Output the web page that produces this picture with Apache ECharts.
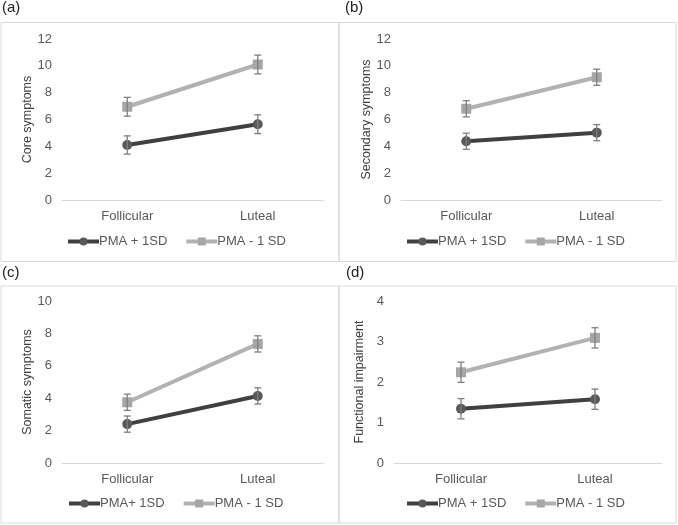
<!DOCTYPE html>
<html><head><meta charset="utf-8">
<script src="https://cdn.jsdelivr.net/npm/echarts@6/dist/echarts.min.js"></script>
<style>html,body{margin:0;padding:0;background:#fff}#c{width:678px;height:525px}</style>
</head><body><div id="c"></div>
<script>
const categories = ['Follicular', 'Luteal'];
const panelLabels = ['(a)', '(b)', '(c)', '(d)'];
const yNames = ['Core symptoms', 'Secondary symptoms', 'Somatic symptoms', 'Functional impairment'];
const yMax = [12, 12, 10, 4];
const yStep = [2, 2, 2, 1];
const highNames = ['PMA + 1SD', 'PMA + 1SD', 'PMA+ 1SD', 'PMA + 1SD'];
const lowNames = ['PMA - 1 SD', 'PMA - 1 SD', 'PMA - 1 SD', 'PMA - 1 SD'];

const coreHigh = [4.1, 5.65];      const coreHighErr = [0.68, 0.7];
const coreLow = [6.95, 10.1];      const coreLowErr = [0.7, 0.7];
const secondaryHigh = [4.38, 5.02]; const secondaryHighErr = [0.6, 0.6];
const secondaryLow = [6.8, 9.15];  const secondaryLowErr = [0.6, 0.6];
const somaticHigh = [2.4, 4.14];   const somaticHighErr = [0.5, 0.5];
const somaticLow = [3.75, 7.35];   const somaticLowErr = [0.5, 0.5];
const functionalHigh = [1.34, 1.575]; const functionalHighErr = [0.25, 0.25];
const functionalLow = [2.24, 3.09];   const functionalLowErr = [0.25, 0.25];

const highVals = [coreHigh, secondaryHigh, somaticHigh, functionalHigh];
const highErrs = [coreHighErr, secondaryHighErr, somaticHighErr, functionalHighErr];
const lowVals = [coreLow, secondaryLow, somaticLow, functionalLow];
const lowErrs = [coreLowErr, secondaryLowErr, somaticLowErr, functionalLowErr];

const FONT = '"Liberation Sans", Arial, sans-serif';
const TXT = '#595959';
const DARK_LINE = '#404040', DARK_MARK = '#595959';
const LIGHT_LINE = '#b2b2b2', LIGHT_MARK = '#a6a6a6';

const grids = [
  {left: 62, top: 39, width: 261, height: 161},
  {left: 401, top: 39, width: 261, height: 161},
  {left: 62, top: 301, width: 261, height: 162},
  {left: 394, top: 301, width: 268, height: 162}
];
const frames = [
  {x: 1, y: 22.5, w: 338, h: 239},
  {x: 339, y: 22.5, w: 337, h: 239},
  {x: 1, y: 286, w: 338, h: 237},
  {x: 339, y: 286, w: 337, h: 237}
];
const labelPos = [[2, 8], [345, 8], [2, 273], [346, 273]];
const legendPos = [[66, 235], [405, 235], [67, 497], [405, 497]];

const option = {
  animation: false,
  textStyle: {fontFamily: FONT},
  grid: grids,
  xAxis: grids.map((g, i) => ({
    type: 'category', gridIndex: i, data: categories,
    axisLine: {lineStyle: {color: '#d9d9d9', width: 1}},
    axisTick: {show: false},
    axisLabel: {color: TXT, fontSize: 13, fontFamily: FONT, margin: 10}
  })),
  yAxis: grids.map((g, i) => ({
    type: 'value', gridIndex: i, min: 0, max: yMax[i], interval: yStep[i],
    axisLine: {show: false}, axisTick: {show: false}, splitLine: {show: false},
    axisLabel: {color: TXT, fontSize: 13, fontFamily: FONT, margin: 10},
    name: yNames[i], nameLocation: 'middle', nameGap: 28, nameRotate: 90,
    nameTextStyle: {color: '#404040', fontSize: 12.5, fontFamily: FONT}
  })),
  legend: grids.map((g, i) => ({
    left: legendPos[i][0], top: legendPos[i][1],
    data: [highNames[i], lowNames[i]],
    itemWidth: 31, itemHeight: 10, itemGap: 17,
    selectedMode: false, padding: 0,
    lineStyle: {width: 4},
    textStyle: {color: TXT, fontSize: 13, fontFamily: FONT, padding: [0, 0, 0, -5]}
  })),
  graphic: frames.map(f => ({
    type: 'rect', shape: {x: f.x, y: f.y, width: f.w, height: f.h},
    style: {fill: null, stroke: '#d9d9d9', lineWidth: 1}, silent: true, z: -1
  })).concat(panelLabels.map((t, i) => ({
    type: 'text', left: labelPos[i][0], top: labelPos[i][1] - 8,
    style: {text: t, fill: '#222', font: '15px ' + FONT}
  }))),
  series: []
};

function errSeries(i, vals, errs) {
  return {
    type: 'custom', xAxisIndex: i, yAxisIndex: i, z: 5,
    data: vals.map((v, k) => [k, v, errs[k]]),
    renderItem: function (params, api) {
      const x = api.value(0), m = api.value(1), e = api.value(2);
      const top = api.coord([x, m + e]);
      const bot = api.coord([x, m - e]);
      const hw = 3.5;
      const st = {stroke: '#7f7f7f', lineWidth: 1.3};
      return {type: 'group', children: [
        {type: 'line', shape: {x1: top[0], y1: top[1], x2: bot[0], y2: bot[1]}, style: st},
        {type: 'line', shape: {x1: top[0] - hw, y1: top[1], x2: top[0] + hw, y2: top[1]}, style: st},
        {type: 'line', shape: {x1: bot[0] - hw, y1: bot[1], x2: bot[0] + hw, y2: bot[1]}, style: st}
      ]};
    }
  };
}

for (let i = 0; i < 4; i++) {
  option.series.push({
    name: lowNames[i], type: 'line', xAxisIndex: i, yAxisIndex: i,
    data: lowVals[i], symbol: 'rect', symbolSize: 10,
    lineStyle: {color: LIGHT_LINE, width: 4}, itemStyle: {color: LIGHT_MARK},
    z: 2
  });
  option.series.push({
    name: highNames[i], type: 'line', xAxisIndex: i, yAxisIndex: i,
    data: highVals[i], symbol: 'circle', symbolSize: 10,
    lineStyle: {color: DARK_LINE, width: 4}, itemStyle: {color: DARK_MARK},
    z: 3
  });
  option.series.push(errSeries(i, lowVals[i], lowErrs[i]));
  option.series.push(errSeries(i, highVals[i], highErrs[i]));
}
const chart = echarts.init(document.getElementById('c'), null, {renderer: 'canvas'});
chart.setOption(option);
</script></body></html>
